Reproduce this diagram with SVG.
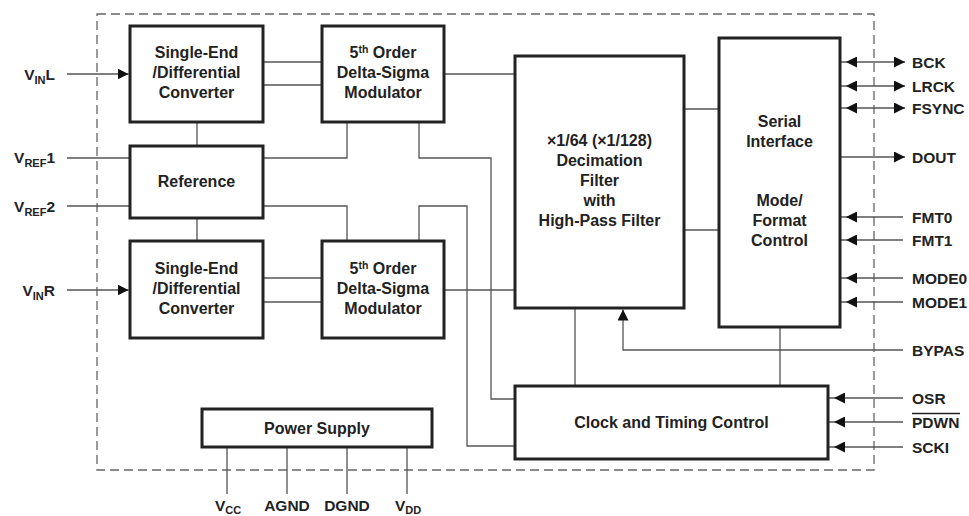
<svg xmlns="http://www.w3.org/2000/svg" width="969" height="516" viewBox="0 0 969 516">
<defs>
<style>
.box{fill:#fff;stroke:#222;stroke-width:3}
.ln{fill:none;stroke:#555;stroke-width:1.3}
.t{font-family:"Liberation Sans",Arial,sans-serif;font-weight:bold;font-size:15.5px;fill:#222}
.b{font-size:16px}
.c{text-anchor:middle}
.e{text-anchor:end}
</style>
<marker id="ar" markerUnits="userSpaceOnUse" markerWidth="11" markerHeight="11" refX="11" refY="5.5" orient="auto-start-reverse"><path d="M0,0 L11,5.5 L0,11 z" fill="#111"/></marker>
<marker id="arg" markerUnits="userSpaceOnUse" markerWidth="11" markerHeight="11" refX="17" refY="5.5" orient="auto-start-reverse"><path d="M0,0 L11,5.5 L0,11 z" fill="#111"/></marker>
</defs>
<rect x="0" y="0" width="969" height="516" fill="#fff"/>
<rect x="97" y="14" width="777" height="456" fill="none" stroke="#666" stroke-width="1.3" stroke-dasharray="9 5"/>

<g id="connectors" class="ln">
<path d="M197,122V146M197,218V241"/>
<path d="M67,158H130M67,206H130"/>
<path d="M67,74H128.5" marker-end="url(#ar)"/>
<path d="M67,290H128.5" marker-end="url(#ar)"/>
<path d="M263,62H322M263,85H322M263,278H322M263,302H322"/>
<path d="M444,74H515M444,290H515"/>
<path d="M263,158H347V122"/>
<path d="M419,122V158H491V399H515"/>
<path d="M263,206H347V241"/>
<path d="M419,241V206H467V446H515"/>
<path d="M684,109H719M684,230H719"/>
<path d="M575,308V386M780,327V386"/>
<path d="M903,350H623V309.5" marker-end="url(#ar)"/>
<path d="M840,62H905" marker-start="url(#arg)" marker-end="url(#ar)"/>
<path d="M840,86H905" marker-start="url(#arg)" marker-end="url(#ar)"/>
<path d="M840,108H905" marker-start="url(#arg)" marker-end="url(#ar)"/>
<path d="M840,157H905" marker-end="url(#ar)"/>
<path d="M903,217H840" marker-end="url(#arg)"/>
<path d="M903,240H840" marker-end="url(#arg)"/>
<path d="M903,278H840" marker-end="url(#arg)"/>
<path d="M903,302H840" marker-end="url(#arg)"/>
<path d="M903,398H828" marker-end="url(#arg)"/>
<path d="M903,422H828" marker-end="url(#arg)"/>
<path d="M903,447H828" marker-end="url(#arg)"/>
<path d="M227,447V494M287,447V494M347,447V494M407,447V494"/>
</g>

<g id="se-l"><rect class="box" x="130" y="26" width="133" height="96"/>
<text class="t b c" x="196.5" y="57.5">Single-End</text><text class="t b c" x="196.5" y="77.5">/Differential</text><text class="t b c" x="196.5" y="97.5">Converter</text></g>
<g id="reference"><rect class="box" x="130" y="146" width="133" height="72"/>
<text class="t b c" x="196.5" y="186.5">Reference</text></g>
<g id="se-r"><rect class="box" x="130" y="241" width="133" height="97"/>
<text class="t b c" x="196.5" y="274">Single-End</text><text class="t b c" x="196.5" y="294">/Differential</text><text class="t b c" x="196.5" y="314">Converter</text></g>
<g id="mod-l"><rect class="box" x="322" y="26" width="122" height="96"/>
<text class="t b c" x="383" y="57.5">5<tspan font-size="10.5" dy="-5">th</tspan><tspan dy="5"> Order</tspan></text><text class="t b c" x="383" y="77.5">Delta-Sigma</text><text class="t b c" x="383" y="97.5">Modulator</text></g>
<g id="mod-r"><rect class="box" x="322" y="241" width="122" height="97"/>
<text class="t b c" x="383" y="274">5<tspan font-size="10.5" dy="-5">th</tspan><tspan dy="5"> Order</tspan></text><text class="t b c" x="383" y="294">Delta-Sigma</text><text class="t b c" x="383" y="314">Modulator</text></g>
<g id="decimation"><rect class="box" x="515" y="56" width="169" height="252"/>
<text class="t b c" x="599.5" y="146">×1/64 (×1/128)</text><text class="t b c" x="599.5" y="166">Decimation</text><text class="t b c" x="599.5" y="186">Filter</text><text class="t b c" x="599.5" y="206">with</text><text class="t b c" x="599.5" y="226">High-Pass Filter</text></g>
<g id="serial"><rect class="box" x="719" y="38" width="121" height="289"/>
<text class="t b c" x="779.5" y="127">Serial</text><text class="t b c" x="779.5" y="147">Interface</text><text class="t b c" x="779.5" y="206">Mode/</text><text class="t b c" x="779.5" y="226">Format</text><text class="t b c" x="779.5" y="246">Control</text></g>
<g id="clock"><rect class="box" x="515" y="386" width="313" height="73"/>
<text class="t b c" x="671.5" y="427.5">Clock and Timing Control</text></g>
<g id="power"><rect class="box" x="202" y="409" width="230" height="38"/>
<text class="t b c" x="317" y="433.5">Power Supply</text></g>

<g id="pins-left">
<text class="t e" x="55" y="80">V<tspan font-size="11" dy="4">IN</tspan><tspan dy="-4">L</tspan></text>
<text class="t e" x="55" y="163">V<tspan font-size="11" dy="4">REF</tspan><tspan dy="-4">1</tspan></text>
<text class="t e" x="55" y="212">V<tspan font-size="11" dy="4">REF</tspan><tspan dy="-4">2</tspan></text>
<text class="t e" x="55" y="296">V<tspan font-size="11" dy="4">IN</tspan><tspan dy="-4">R</tspan></text>
</g>
<g id="pins-right">
<text class="t" x="912" y="68">BCK</text>
<text class="t" x="912" y="92">LRCK</text>
<text class="t" x="912" y="114">FSYNC</text>
<text class="t" x="912" y="163">DOUT</text>
<text class="t" x="912" y="223">FMT0</text>
<text class="t" x="912" y="246">FMT1</text>
<text class="t" x="912" y="284">MODE0</text>
<text class="t" x="912" y="308">MODE1</text>
<text class="t" x="912" y="356">BYPAS</text>
<text class="t" x="912" y="404">OSR</text>
<text class="t" x="912" y="428">PDWN</text>
<line x1="912" y1="413.5" x2="960" y2="413.5" stroke="#222" stroke-width="1.3"/>
<text class="t" x="912" y="453">SCKI</text>
</g>
<g id="pins-bottom">
<text class="t c" x="228" y="511">V<tspan font-size="11" dy="3">CC</tspan></text>
<text class="t c" x="287" y="511">AGND</text>
<text class="t c" x="347" y="511">DGND</text>
<text class="t c" x="408" y="511">V<tspan font-size="11" dy="3">DD</tspan></text>
</g>
</svg>
